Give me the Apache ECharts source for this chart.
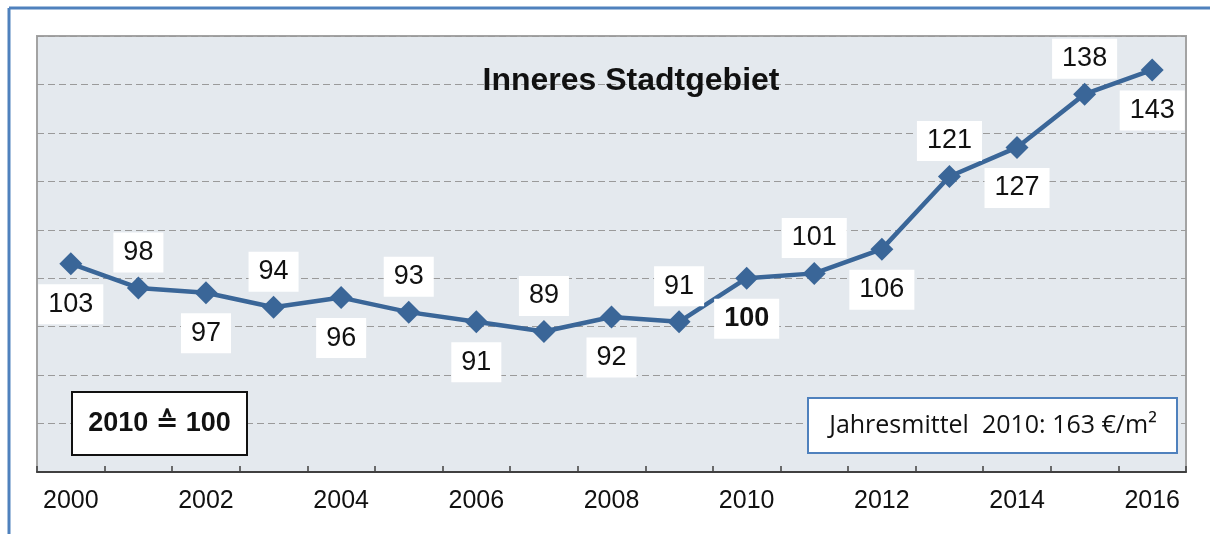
<!DOCTYPE html>
<html>
<head>
<meta charset="utf-8">
<script src="https://cdn.jsdelivr.net/npm/echarts@6/dist/echarts.min.js"></script>
<style>
html,body{margin:0;padding:0;background:#fff;}
#chart{width:1210px;height:534px;}
</style>
</head>
<body>
<div id="chart"></div>
<script>
const years = ['2000','2001','2002','2003','2004','2005','2006','2007','2008','2009','2010','2011','2012','2013','2014','2015','2016'];
const indexValues = [103, 98, 97, 94, 96, 93, 91, 89, 92, 91, 100, 101, 106, 121, 127, 138, 143];
const title = 'Inneres Stadtgebiet';
const baseNote = '2010 \u2259 100';
const meanNote = 'Jahresmittel  2010: 163 \u20ac/m\u00b2';
const baseYear = '2010';

const chart = echarts.init(document.getElementById('chart'));

const seriesData = indexValues.map((v, i) => {
  const above = i % 2 === 1;
  return {
    value: v,
    label: {
      position: above ? 'top' : 'bottom',
      distance: above ? 4 : 9,
      fontWeight: years[i] === baseYear ? 'bold' : 'normal'
    }
  };
});

chart.setOption({
  animation: false,
  backgroundColor: '#ffffff',
  grid: {
    left: 37, right: 24, top: 36, bottom: 62,
    show: true,
    backgroundColor: '#e4e9ee',
    borderColor: '#a3a3a3',
    borderWidth: 2
  },
  xAxis: {
    type: 'category',
    data: years,
    boundaryGap: true,
    axisLine: { show: true, lineStyle: { color: '#404040', width: 2 } },
    axisTick: { show: true, inside: true, length: 6, interval: 0, lineStyle: { color: '#404040', width: 1.5 } },
    axisLabel: { interval: 1, color: '#111', fontFamily: 'Liberation Sans', fontSize: 25, margin: 17 },
    splitLine: { show: false }
  },
  yAxis: {
    type: 'value',
    min: 60, max: 150, interval: 10,
    axisLine: { show: false },
    axisTick: { show: false },
    axisLabel: { show: false },
    splitLine: { show: true, lineStyle: { color: '#9a9a9a', type: [7, 4], width: 1 } }
  },
  series: [{
    type: 'line',
    data: seriesData,
    symbol: 'diamond',
    symbolSize: 23,
    lineStyle: { color: '#3a6698', width: 4.5 },
    itemStyle: { color: '#3a6698' },
    label: {
      show: true,
      color: '#111',
      fontFamily: 'Liberation Sans',
      fontSize: 27,
      lineHeight: 28,
      backgroundColor: '#ffffff',
      padding: [6, 10, 6, 10]
    }
  }],
  graphic: [
    { type: 'line', shape: { x1: 9, y1: 8, x2: 1210, y2: 8 }, style: { stroke: '#4f81bd', lineWidth: 3 } },
    { type: 'line', shape: { x1: 9, y1: 8, x2: 9, y2: 534 }, style: { stroke: '#4f81bd', lineWidth: 3 } },
    { type: 'text', x: 631, y: 81, z: 10, style: { text: title, fill: '#111', font: 'bold 32px "Liberation Sans"', align: 'center', verticalAlign: 'middle' } },
    { type: 'rect', shape: { x: 72, y: 392, width: 175, height: 63 }, z: 10, style: { fill: '#fff', stroke: '#111', lineWidth: 2 } },
    { type: 'text', x: 159.5, y: 424, z: 11, style: { text: baseNote, fill: '#111', font: 'bold 27px "Liberation Sans", "DejaVu Sans"', align: 'center', verticalAlign: 'middle' } },
    { type: 'rect', shape: { x: 808, y: 398, width: 369, height: 55 }, z: 10, style: { fill: '#fff', stroke: '#4f81bd', lineWidth: 2 } },
    { type: 'text', x: 993, y: 426, z: 11, style: { text: meanNote, fill: '#111', font: '25px "Open Sans"', align: 'center', verticalAlign: 'middle' } }
  ]
});
</script>
</body>
</html>
